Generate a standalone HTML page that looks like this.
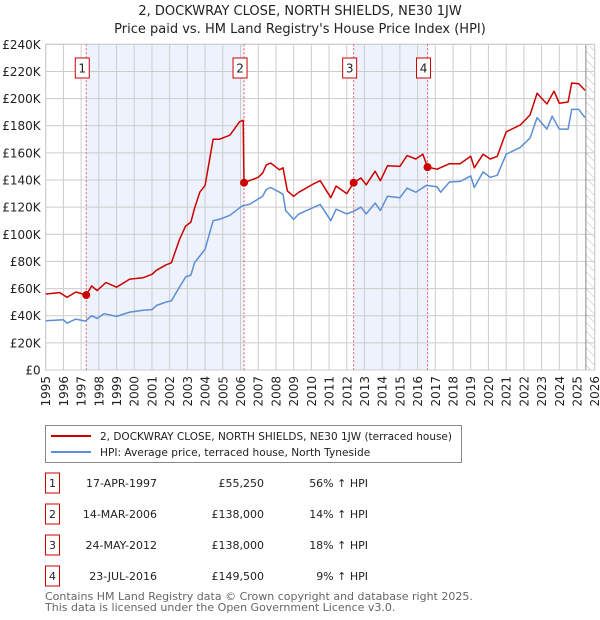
<!DOCTYPE html>
<html><head><meta charset="utf-8"><style>
body{margin:0;background:#fff;font-family:"Liberation Sans","DejaVu Sans",sans-serif;}
#wrap{position:relative;width:600px;height:620px;overflow:hidden;}
svg text{font-family:"DejaVu Sans","Liberation Sans",sans-serif;}
</style></head><body>
<div id="wrap">
<svg id="chart" width="600" height="620"></svg>
</div>
<script>
const hpiYears=[1995,1996,1996.2,1996.7,1997.25,1997.6,1997.9,1998.3,1999,1999.75,2000.5,2001,2001.25,2001.8,2002.1,2002.55,2002.9,2003.2,2003.4,2003.7,2004,2004.45,2004.8,2005.4,2006.1,2006.5,2007,2007.25,2007.45,2007.7,2008.2,2008.4,2008.55,2009,2009.3,2010.5,2011.1,2011.4,2012,2012.4,2012.8,2013.1,2013.6,2013.9,2014.3,2015,2015.4,2015.9,2016.5,2017.1,2017.3,2017.8,2018.4,2019,2019.2,2019.7,2020.1,2020.5,2021,2021.8,2022.35,2022.75,2023.3,2023.6,2024,2024.5,2024.7,2025.1,2025.45];
const hpiValues=[36.3,37,34.5,37.5,36,40,38,41.5,39.5,42.7,44,44.5,47.5,50,51,61,68.5,70,79,84,89,110,111,114,121,122,126,128,133,134.5,131,129.5,117.5,111,115,122,110,118.5,115,117,120,115,123,117.5,128,127,134,131,136,135,131,138.5,139,143,134.5,146,142,143.5,159,164,171,186,177.5,187,177.5,177.5,192,192,186];
const propYears=[1995,1995.8,1996.2,1996.7,1997.29,1997.6,1997.9,1998.4,1999,1999.75,2000.5,2001,2001.25,2001.8,2002.1,2002.55,2002.9,2003.2,2003.4,2003.7,2004,2004.45,2004.8,2005.4,2005.95,2006.15,2006.2,2007,2007.25,2007.45,2007.7,2008.2,2008.4,2008.65,2009,2009.3,2010.1,2010.5,2011.1,2011.4,2012,2012.39,2012.8,2013.1,2013.6,2013.9,2014.3,2015,2015.4,2015.9,2016.3,2016.56,2017.1,2017.8,2018.4,2019,2019.2,2019.7,2020.1,2020.5,2021,2021.8,2022.35,2022.75,2023.3,2023.7,2024,2024.5,2024.7,2025.1,2025.45];
const propValues=[56,57,53.5,57.5,55.25,62,58.5,64.5,61,67,68,70.5,73.5,77.5,79,96,106,109,119,131,136,170,170,173,183,184,138,142,145,151,152.5,147.5,149,132,128,131,137,139.5,127,135.5,130,138,141.5,136.5,146.5,139.5,150.5,150,158,155.5,159,149.5,148,152,152,157.5,149,159,155.5,157.5,175.5,180.5,188,204,196,205.5,196.5,197.5,211.5,211,206];
const saleLabels=["1","2","3","4"];
const saleYears=[1997.29,2006.2,2012.39,2016.56];
const salePrices=[55.25,138,138,149.5];
const yTicks=[0,20,40,60,80,100,120,140,160,180,200,220,240];
const xTicks=[1995,1996,1997,1998,1999,2000,2001,2002,2003,2004,2005,2006,2007,2008,2009,2010,2011,2012,2013,2014,2015,2016,2017,2018,2019,2020,2021,2022,2023,2024,2025,2026];

const NS="http://www.w3.org/2000/svg";
const svg=document.getElementById('chart');
const L=45.7,R=594.7,T=44.3,B=370;
const X=y=>L+(y-1995)/(2026-1995)*(R-L);
const Y=v=>B-v/240*(B-T);
function el(tag,attrs,parent){const e=document.createElementNS(NS,tag);for(const k in attrs)e.setAttribute(k,attrs[k]);(parent||svg).appendChild(e);return e;}

let t=el('text',{x:300,y:15,'text-anchor':'middle','font-size':'13',fill:'#222'});t.textContent="2, DOCKWRAY CLOSE, NORTH SHIELDS, NE30 1JW";


t=el('text',{x:300,y:33,'text-anchor':'middle','font-size':'13',fill:'#222'});t.textContent="Price paid vs. HM Land Registry's House Price Index (HPI)";



for(let i=0;i<saleYears.length;i+=2){
  const r=el('rect',{x:X(saleYears[i]),y:T,width:X(saleYears[i+1])-X(saleYears[i]),height:B-T,fill:'#edf2fc'});
  
  
}
const defs=el('defs',{});
const pat=el('pattern',{id:'hatch',width:6,height:6,patternUnits:'userSpaceOnUse',patternTransform:'rotate(-45)'},defs);
el('line',{x1:0,y1:0,x2:0,y2:6,stroke:'#bbb','stroke-width':1},pat);
const hx=X(2025.5);
let h=el('rect',{x:hx,y:T,width:R-hx,height:B-T,fill:'url(#hatch)'});



yTicks.forEach(v=>{
  const g=el('line',{x1:L,x2:R,y1:Y(v),y2:Y(v),stroke:'#cccccc','stroke-width':1});
  
  
  const lb=el('text',{x:L-5,y:Y(v)+4.5,'text-anchor':'end','font-size':'12',fill:'#222'});
  lb.textContent=v===0?'£0':'£'+v+'K';
  
  
});
xTicks.forEach(yr=>{
  const g=el('line',{x1:X(yr),x2:X(yr),y1:T,y2:B,stroke:'#cccccc','stroke-width':1});
  
  
  const lb=el('text',{x:0,y:0,'text-anchor':'end','font-size':'12',fill:'#222',transform:`translate(${X(yr)+4.5},${B+6}) rotate(-90)`});
  lb.textContent=yr;
  
  
});
el('line',{x1:hx,x2:hx,y1:T,y2:B,stroke:'#888','stroke-width':1});
let fr=el('rect',{x:L,y:T,width:R-L,height:B-T,fill:'none',stroke:'#cccccc'});



saleYears.forEach((yr,i)=>{
  const l=el('line',{x1:X(yr),x2:X(yr),y1:T,y2:B,stroke:'#e06060','stroke-width':1,'stroke-dasharray':'2,2'});
  
  
  const bx=el('rect',{x:X(yr)-11,y:58,width:14,height:20,fill:'#fff',stroke:'#cc0000'});
  
  
  const tx=el('text',{x:X(yr)-4,y:72.5,'text-anchor':'middle','font-size':'12',fill:'#222'});
  tx.textContent=saleLabels[i];
  
  
});

function path(xs,vs,color,name){
  const d=xs.map((x,i)=>(i?'L':'M')+X(x).toFixed(1)+','+Y(vs[i]).toFixed(1)).join('');
  const p=el('path',{d:d,fill:'none',stroke:color,'stroke-width':1.5,'stroke-linejoin':'round'});
  
  
}
path(hpiYears,hpiValues,'#5b8ed4','hpi-line');
path(propYears,propValues,'#cc0000','property-price-line');
saleYears.forEach((yr,i)=>{
  const c=el('circle',{cx:X(yr),cy:Y(salePrices[i]),r:4,fill:'#cc0000'});
  
  
});

let lg=el('rect',{x:45.5,y:425.5,width:416,height:37,fill:'#fff',stroke:'#888'});


el('line',{x1:51,x2:91,y1:436,y2:436,stroke:'#cc0000','stroke-width':2});
el('line',{x1:51,x2:91,y1:452,y2:452,stroke:'#5b8ed4','stroke-width':2});
t=el('text',{x:100,y:440,'font-size':'10.6',fill:'#222',textLength:352,lengthAdjust:'spacingAndGlyphs'});t.textContent="2, DOCKWRAY CLOSE, NORTH SHIELDS, NE30 1JW (terraced house)";


t=el('text',{x:100,y:456,'font-size':'10.6',fill:'#222'});t.textContent="HPI: Average price, terraced house, North Tyneside";



const dates=["17-APR-1997","14-MAR-2006","24-MAY-2012","23-JUL-2016"];
const prices=["£55,250","£138,000","£138,000","£149,500"];
const pcts=["56% ↑ HPI","14% ↑ HPI","18% ↑ HPI","9% ↑ HPI"];
dates.forEach((d,i)=>{
  const cy=483+i*31;
  const b=el('rect',{x:45.5,y:cy-10,width:14,height:20,fill:'#fff',stroke:'#cc0000'});
  
  
  let tt=el('text',{x:52.5,y:cy+4,'text-anchor':'middle','font-size':'11',fill:'#222'});tt.textContent=saleLabels[i];
  tt=el('text',{x:157,y:cy+4,'text-anchor':'end','font-size':'11',fill:'#222'});tt.textContent=d;
  
  
  tt=el('text',{x:264,y:cy+4,'text-anchor':'end','font-size':'11',fill:'#222'});tt.textContent=prices[i];
  
  
  tt=el('text',{x:368,y:cy+4,'text-anchor':'end','font-size':'11',fill:'#222'});tt.textContent=pcts[i];
  
  
});
t=el('text',{x:45,y:600,'font-size':'11',fill:'#666'});t.textContent="Contains HM Land Registry data © Crown copyright and database right 2025.";


t=el('text',{x:45,y:611,'font-size':'11',fill:'#666'});t.textContent="This data is licensed under the Open Government Licence v3.0.";


</script>
</body></html>
